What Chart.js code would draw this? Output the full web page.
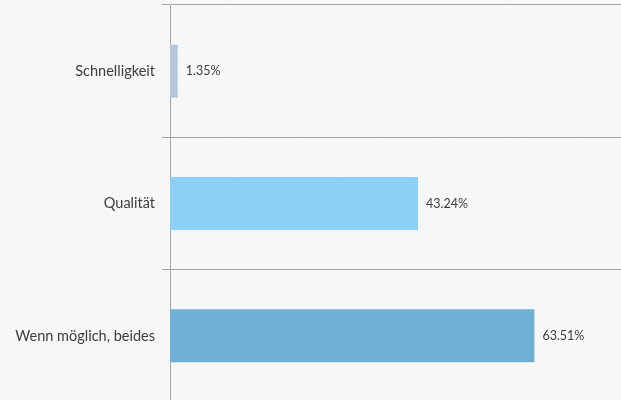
<!DOCTYPE html>
<html>
<head>
<meta charset="utf-8">
<script src="https://cdn.jsdelivr.net/npm/chart.js@4/dist/chart.umd.min.js"></script>
<style>
  html, body { margin: 0; padding: 0; overflow: hidden; background: #f7f7f7; }
  #wrap { width: 621px; height: 400px; overflow: hidden; position: relative;
          background-color: #f8f8f8;
          background-image: repeating-linear-gradient(45deg, rgba(0,0,0,0.012) 0 1px, transparent 1px 3px); }
  canvas { display: block; }
</style>
</head>
<body>
<div id="wrap"><canvas id="c" width="630" height="410"></canvas></div>
<script>
// Answers to "Schnelligkeit oder Qualität?" in percent
const categories = ["Schnelligkeit", "Qualität", "Wenn möglich, beides"];
const shares = [1.35, 43.24, 63.51];
const barColors = ["#b5c7da", "#8dd0f6", "#71b0d5"];

const gridColor = "#a4a4a4";
const textColor = "#3c3c3c";

// writes each bar's value just past its end
const valueLabels = {
  id: "valueLabels",
  afterDatasetsDraw(chart) {
    const ctx = chart.ctx;
    const meta = chart.getDatasetMeta(0);
    ctx.save();
    ctx.font = "12.5px Lato, 'Liberation Sans', sans-serif";
    ctx.fillStyle = textColor;
    ctx.textAlign = "left";
    ctx.textBaseline = "middle";
    meta.data.forEach((bar, i) => {
      const v = chart.data.datasets[0].data[i];
      ctx.fillText(v.toFixed(2) + "%", bar.x + 8, bar.y);
    });
    ctx.restore();
  }
};

new Chart(document.getElementById("c"), {
  type: "bar",
  data: {
    labels: categories,
    datasets: [{
      data: shares,
      backgroundColor: barColors,
      borderWidth: 0,
      categoryPercentage: 1,
      barPercentage: 0.4
    }]
  },
  options: {
    indexAxis: "y",
    responsive: false,
    animation: false,
    devicePixelRatio: 1,
    layout: { padding: { top: 5, right: 1, bottom: 8, left: 0 } },
    plugins: { legend: { display: false }, tooltip: { enabled: false } },
    scales: {
      x: { display: false, min: 0, max: 80 },
      y: {
        afterFit(scale) {
          scale.width = 170;
          scale.paddingTop = 0;
          scale.paddingBottom = 0;
        },
        grid: { color: gridColor, lineWidth: 1, tickLength: 8, drawOnChartArea: true },
        border: { color: gridColor, width: 1 },
        ticks: {
          color: textColor,
          padding: 7,
          font: { family: "Lato, 'Liberation Sans', sans-serif", size: 14.5 }
        }
      }
    }
  },
  plugins: [valueLabels]
});
</script>
</body>
</html>
